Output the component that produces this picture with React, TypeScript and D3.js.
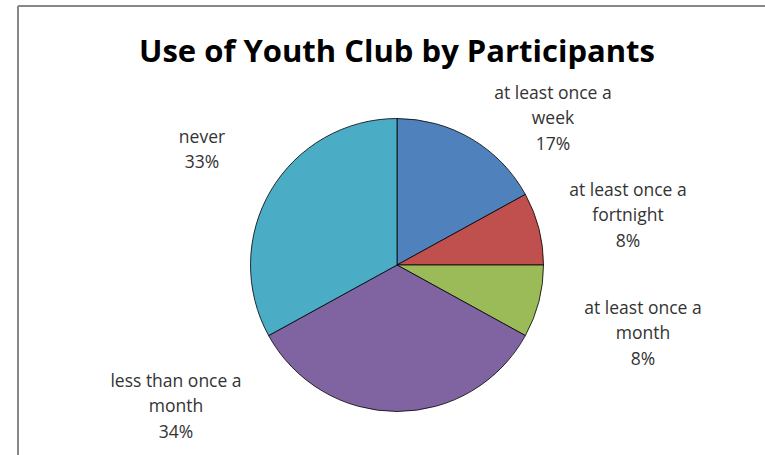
import React from "react";
import * as d3 from "d3";

const categories = [
  "at least once a week",
  "at least once a fortnight",
  "at least once a month",
  "less than once a month",
  "never",
];
const values = [17, 8, 8, 34, 33];
const labelLines = [
  ["at least once a", "week", "17%"],
  ["at least once a", "fortnight", "8%"],
  ["at least once a", "month", "8%"],
  ["less than once a", "month", "34%"],
  ["never", "33%"],
];
const colors = ["#4F81BD", "#C0504D", "#9BBB59", "#8064A2", "#4BACC6"];
const title = "Use of Youth Club by Participants";

// label block centres (layout), relative to pie centre
const labelOffsets: [number, number][] = [
  [156, -147],
  [231, -50],
  [246, 68],
  [-221, 141],
  [-195, -115.5],
];

export default function App() {
  const W = 765, H = 455;
  const cx = 397, cy = 265, r = 146.5;
  const pie = d3.pie<number>().sort(null).value((d) => d);
  const arcs = pie(values);
  const arcGen = d3.arc<d3.PieArcDatum<number>>().innerRadius(0).outerRadius(r);
  const lineH = 25.5;
  const font = "'Open Sans', Lato, sans-serif";
  return (
    <div style={{ position: "absolute", left: 0, top: 0 }}>
      <svg width={W} height={H} style={{ display: "block" }}>
        <rect x={0} y={0} width={W} height={H} fill="#fff" />
        <line x1={18} y1={6} x2={W} y2={6} stroke="#888" strokeWidth={2} />
        <line x1={18} y1={6} x2={18} y2={H} stroke="#888" strokeWidth={2} />
        <text
          x={397}
          y={62}
          textAnchor="middle"
          fontFamily={font}
          fontWeight="bold"
          fontSize={31}
          fill="#000"
        >
          {title}
        </text>
        <g transform={`translate(${cx},${cy})`}>
          {arcs.map((a, i) => (
            <path
              key={categories[i]}
              d={arcGen(a) || ""}
              fill={colors[i]}
              stroke="#000"
              strokeWidth={0.8}
            />
          ))}
          {arcs.map((a, i) => {
            const [x, y] = labelOffsets[i];
            const lines = labelLines[i];
            const y0 = y - ((lines.length - 1) * lineH) / 2;
            return (
              <text
                key={"l" + i}
                textAnchor="middle"
                fontFamily={font}
                fontSize={17.5}
                fill="#333"
              >
                {lines.map((t, j) => (
                  <tspan key={j} x={x} y={y0 + j * lineH} dy="0.35em">
                    {t}
                  </tspan>
                ))}
              </text>
            );
          })}
        </g>
      </svg>
    </div>
  );
}
